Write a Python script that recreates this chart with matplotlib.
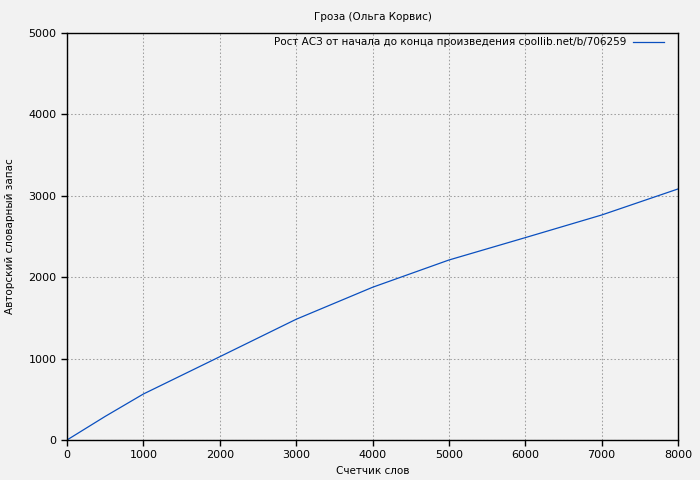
import matplotlib
matplotlib.use("Agg")
import matplotlib.pyplot as plt

# счетчик слов и словарный запас
words = [0, 500, 1000, 2000, 3000, 4000, 5000, 6000, 7000, 8000]
vocab = [0, 290, 565, 1023, 1483, 1876, 2211, 2486, 2764, 3084]

title = "Гроза (Ольга Корвис)"
legend_label = "Рост АСЗ от начала до конца произведения coollib.net/b/706259"

bg = "#f2f2f2"
plt.rcParams['font.family'] = ['DejaVu Sans']
plt.rcParams['font.size'] = 8

fig = plt.figure(figsize=(7, 4.8), dpi=100, facecolor=bg)
ax = fig.add_axes([67/700, 40/480, 611/700, 407/480], facecolor=bg)

ax.plot(words, vocab, color="#0a4fbf", linewidth=0.9, label=legend_label)

ax.set_xlim(0, 8000)
ax.set_ylim(0, 5000)
ax.set_xticks(range(0, 8001, 1000))
ax.set_yticks(range(0, 5001, 1000))
ax.grid(True, color="#a0a0a0", linestyle=(0, (1.5, 2.0)), linewidth=0.75)
ax.tick_params(direction="out", length=4, width=1, top=False, right=False,
               labelsize=8, colors="black")
for s in ax.spines.values():
    s.set_linewidth(1)

ax.set_xlabel("Счетчик слов", fontsize=7.5, labelpad=4)
ax.set_ylabel("Авторский словарный запас", fontsize=7.5, labelpad=10)
# заголовок по центру осей
fig.text(372.5/700, 0.975, title, fontsize=7.5, ha="center", va="top")

leg = ax.legend(loc="upper right", frameon=False, markerfirst=False,
                fontsize=7.5, handlelength=3.0, handletextpad=0.6,
                borderaxespad=0.0, bbox_to_anchor=(0.984, 1.0))

fig.savefig("out.png", dpi=100, facecolor=bg)
